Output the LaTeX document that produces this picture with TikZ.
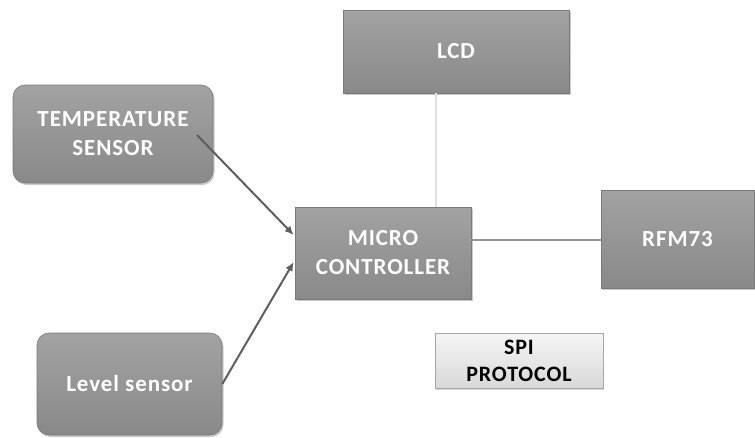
\documentclass[tikz,border=0pt]{standalone}
\usepackage{fontspec}
\setmainfont{Carlito}[LetterSpace=4]
\usetikzlibrary{arrows.meta,calc,shadows}
\definecolor{boxtop}{HTML}{A2A2A2}
\definecolor{boxbot}{HTML}{898989}
\definecolor{boxline}{HTML}{7A7A7A}
\definecolor{arrowc}{HTML}{5E5E5E}
\tikzset{
  graybox/.style={draw=boxline, line width=0.6pt, top color=boxtop, bottom color=boxbot,
    text=white, font=\bfseries\fontsize{23}{29}\selectfont, align=center, inner sep=0pt,
    drop shadow={shadow xshift=1.5pt, shadow yshift=-2pt, fill=black!35, opacity=0.6}},
  roundbox/.style={graybox, rounded corners=12pt},
  lightbox/.style={draw=black!35, line width=0.6pt, top color=white!96!black, bottom color=white!85!black,
    text=black, font=\bfseries\fontsize{22}{27}\selectfont, align=center, inner sep=0pt,
    drop shadow={shadow xshift=1pt, shadow yshift=-1.5pt, fill=black!30, opacity=0.5}},
  arrowline/.style={draw=arrowc, line width=2pt, -{Latex[length=9pt,width=8pt]}},
  plainline/.style={line width=2pt}
}
\begin{document}
\begin{tikzpicture}[x=1pt,y=-1pt]
\useasboundingbox (0,0) rectangle (755,437);
\node[roundbox, minimum width=200pt, minimum height=98pt] (temp) at (113,134) {TEMPERATURE\\SENSOR};
\node[graybox, minimum width=226pt, minimum height=83pt] (lcd) at (456,51.5) {LCD};
\node[graybox, minimum width=176pt, minimum height=92pt] (micro) at (383,253) {MICRO\\CONTROLLER};
\node[graybox, minimum width=153pt, minimum height=98pt] (rfm) at (677.5,239) {RFM73};
\node[roundbox, minimum width=185pt, minimum height=102pt] (level) at (129.5,384) {Level sensor};
\node[lightbox, minimum width=168pt, minimum height=55pt] (spi) at (519,360.5) {SPI\\PROTOCOL};
\coordinate (t1) at (197,135);
\draw[plainline, draw=black!12] (lcd.south -| 436,0) -- (micro.north -| 436,0);
\draw[plainline, draw=black!42] (micro.east |- 0,240) -- (rfm.west |- 0,240);
\draw[arrowline] (t1) -- ($(micro.west)+(-1pt,18pt)$);
\draw[arrowline] (level.east) -- ($(micro.west)+(-1pt,-9pt)$);
\end{tikzpicture}
\end{document}
